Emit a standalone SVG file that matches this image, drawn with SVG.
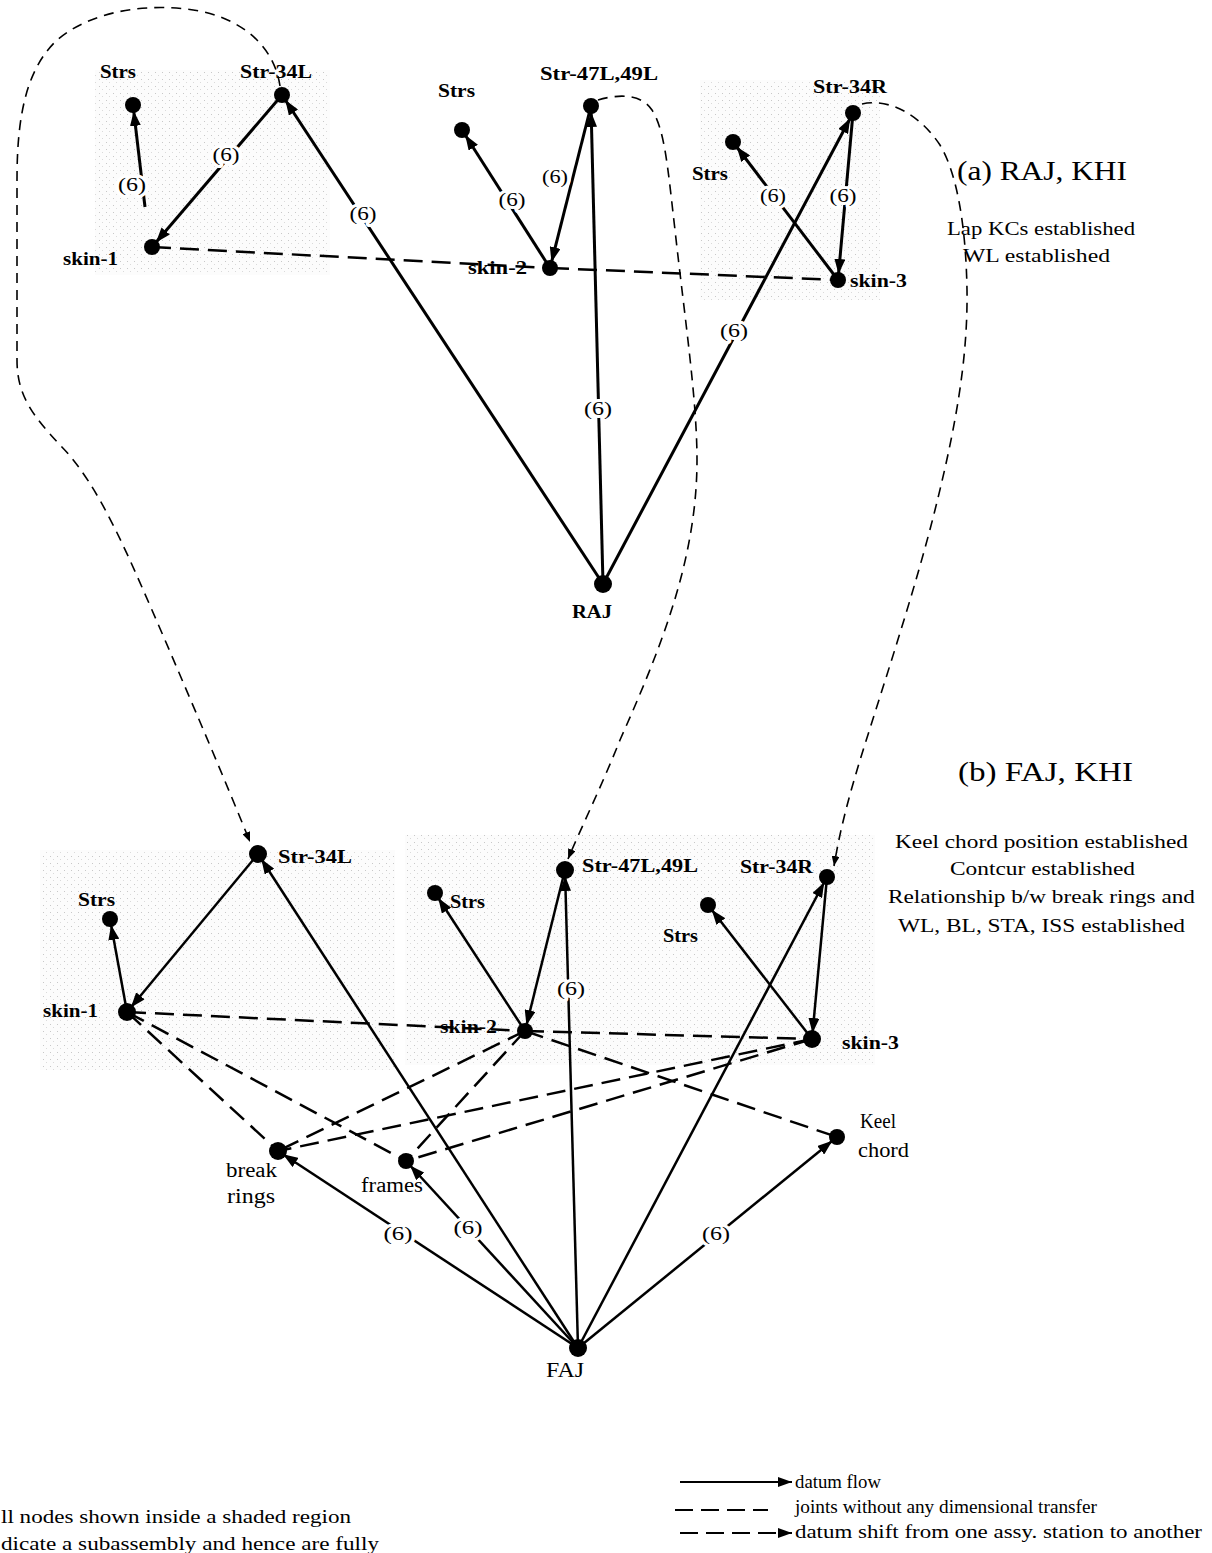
<svg xmlns="http://www.w3.org/2000/svg" width="1212" height="1553" viewBox="0 0 1212 1553">
<style>
.nd{fill:#000}
.lb{font-family:"Liberation Serif","Times New Roman",serif;font-weight:bold;font-size:19px;fill:#000}
.rg{font-family:"Liberation Serif","Times New Roman",serif;font-size:20px;fill:#000}
.six{font-family:"Liberation Serif","Times New Roman",serif;font-size:18px;fill:#000;text-anchor:middle;paint-order:stroke;stroke:#fff;stroke-width:6px;stroke-linejoin:round}
.ttl{font-family:"Liberation Serif","Times New Roman",serif;font-size:28px;fill:#000}
.note{font-family:"Liberation Serif","Times New Roman",serif;font-size:19px;fill:#000}
.leg{font-family:"Liberation Serif","Times New Roman",serif;font-size:19px;fill:#000}
.sa{stroke:#000;stroke-width:3;fill:none;marker-end:url(#ah)}
.sb{stroke:#000;stroke-width:2.5;fill:none;marker-end:url(#ah)}
.dj{stroke:#000;stroke-width:2.5;fill:none;stroke-dasharray:19 9}
.ds{stroke:#000;stroke-width:1.6;fill:none;stroke-dasharray:10 7;marker-end:url(#ahs)}
</style>
<defs>
<marker id="ah" viewBox="0 0 15 11" refX="21" refY="5.5" markerWidth="15" markerHeight="11" markerUnits="userSpaceOnUse" orient="auto"><path d="M0,0L15,5.5L0,11z" fill="#000"/></marker>
<marker id="ahl" viewBox="0 0 14 10" refX="14" refY="5" markerWidth="14" markerHeight="10" markerUnits="userSpaceOnUse" orient="auto"><path d="M0,0L14,5L0,10z" fill="#000"/></marker>
<marker id="ahs" viewBox="0 0 10 8" refX="10" refY="4" markerWidth="10" markerHeight="8" markerUnits="userSpaceOnUse" orient="auto"><path d="M0,0L10,4L0,8z" fill="#000"/></marker>
<pattern id="stip" width="7" height="7" patternUnits="userSpaceOnUse"><rect width="7" height="7" fill="#fcfcfc"/><rect x="1" y="2" width="1" height="1" fill="#c8c8c8"/><rect x="4" y="5" width="1" height="1" fill="#dadada"/></pattern>
</defs>
<rect width="1212" height="1553" fill="#fff"/>
<g id="shading">
<rect x="95" y="70" width="235" height="205" fill="url(#stip)"/>
<rect x="700" y="80" width="180" height="220" fill="url(#stip)"/>
<rect x="40" y="850" width="355" height="220" fill="url(#stip)"/>
<rect x="405" y="835" width="470" height="230" fill="url(#stip)"/>
</g>
<g id="connectors">
<path class="dj" d="M152,247 L550,268"/>
<path class="dj" d="M550,268 L838,280"/>
<path class="sa" d="M145,207 L133,105"/>
<path class="sa" d="M282,95 L152,247"/>
<path class="sa" d="M603,584 L282,95"/>
<path class="sa" d="M550,268 L462,130"/>
<path class="sa" d="M591,106 L550,268"/>
<path class="sa" d="M603,584 L591,106"/>
<path class="sa" d="M838,280 L733,142"/>
<path class="sa" d="M853,113 L838,280"/>
<path class="sa" d="M603,584 L853,113"/>
<path class="ds" d="M280,86 C275,52 250,22 200,11 C150,2 90,10 55,42 C25,72 17,120 17,180 L17,360 C17,395 32,415 60,445 C100,485 130,560 165,640 C195,710 225,780 250,842"/>
<path class="ds" d="M598,100 C615,95 640,92 652,110 C665,130 668,170 675,230 C685,320 697,400 697,460 C697,560 660,650 620,740 C600,790 580,830 568,859"/>
<path class="ds" d="M862,104 C890,98 920,115 940,145 C958,175 966,230 967,290 C968,360 955,430 935,510 C915,590 885,680 860,760 C848,800 840,830 834,866"/>
<path class="dj" d="M127,1012 L525,1031"/>
<path class="dj" d="M525,1031 L812,1039"/>
<path class="dj" d="M127,1012 L278,1151"/>
<path class="dj" d="M127,1012 L406,1161"/>
<path class="dj" d="M525,1031 L278,1151"/>
<path class="dj" d="M525,1031 L406,1161"/>
<path class="dj" d="M812,1039 L278,1151"/>
<path class="dj" d="M812,1039 L406,1161"/>
<path class="dj" d="M525,1031 L837,1137"/>
<path class="sb" d="M127,1012 L110,919"/>
<path class="sb" d="M258,854 L127,1012"/>
<path class="sb" d="M578,1348 L258,854"/>
<path class="sb" d="M525,1031 L435,893"/>
<path class="sb" d="M565,870 L525,1031"/>
<path class="sb" d="M578,1348 L565,870"/>
<path class="sb" d="M812,1039 L708,905"/>
<path class="sb" d="M827,877 L812,1039"/>
<path class="sb" d="M578,1348 L827,877"/>
<path class="sb" d="M578,1348 L278,1151"/>
<path class="sb" d="M578,1348 L406,1161"/>
<path class="sb" d="M578,1348 L837,1137"/>
</g>
<g id="edge-labels">
<text class="six" x="132" y="191" textLength="28" lengthAdjust="spacingAndGlyphs">(6)</text>
<text class="six" x="226" y="161" textLength="27" lengthAdjust="spacingAndGlyphs">(6)</text>
<text class="six" x="363" y="220" textLength="27" lengthAdjust="spacingAndGlyphs">(6)</text>
<text class="six" x="512" y="206" textLength="27" lengthAdjust="spacingAndGlyphs">(6)</text>
<text class="six" x="555" y="183" textLength="26" lengthAdjust="spacingAndGlyphs">(6)</text>
<text class="six" x="598" y="415" textLength="28" lengthAdjust="spacingAndGlyphs">(6)</text>
<text class="six" x="773" y="202" textLength="26" lengthAdjust="spacingAndGlyphs">(6)</text>
<text class="six" x="843" y="202" textLength="27" lengthAdjust="spacingAndGlyphs">(6)</text>
<text class="six" x="734" y="337" textLength="28" lengthAdjust="spacingAndGlyphs">(6)</text>
<text class="six" x="571" y="995" textLength="28" lengthAdjust="spacingAndGlyphs">(6)</text>
<text class="six" x="398" y="1240" textLength="29" lengthAdjust="spacingAndGlyphs">(6)</text>
<text class="six" x="468" y="1234" textLength="29" lengthAdjust="spacingAndGlyphs">(6)</text>
<text class="six" x="716" y="1240" textLength="28" lengthAdjust="spacingAndGlyphs">(6)</text>
</g>
<g id="a-strs-left"><circle class="nd" cx="133" cy="105" r="8"/><text class="lb" x="100" y="78" textLength="36" lengthAdjust="spacingAndGlyphs">Strs</text></g>
<g id="a-str34L"><circle class="nd" cx="282" cy="95" r="8"/><text class="lb" x="240" y="78" textLength="72" lengthAdjust="spacingAndGlyphs">Str-34L</text></g>
<g id="a-skin1"><circle class="nd" cx="152" cy="247" r="8"/><text class="lb" x="63" y="265" textLength="55" lengthAdjust="spacingAndGlyphs">skin-1</text></g>
<g id="a-strs-mid"><circle class="nd" cx="462" cy="130" r="8"/><text class="lb" x="438" y="97" textLength="37" lengthAdjust="spacingAndGlyphs">Strs</text></g>
<g id="a-str47"><circle class="nd" cx="591" cy="106" r="8"/><text class="lb" x="540" y="80" textLength="118" lengthAdjust="spacingAndGlyphs">Str-47L,49L</text></g>
<g id="a-skin2"><circle class="nd" cx="550" cy="268" r="8"/><text class="lb" x="468" y="274" textLength="59" lengthAdjust="spacingAndGlyphs">skin-2</text></g>
<g id="a-strs-right"><circle class="nd" cx="733" cy="142" r="8"/><text class="lb" x="692" y="180" textLength="36" lengthAdjust="spacingAndGlyphs">Strs</text></g>
<g id="a-str34R"><circle class="nd" cx="853" cy="113" r="8"/><text class="lb" x="813" y="93" textLength="74" lengthAdjust="spacingAndGlyphs">Str-34R</text></g>
<g id="a-skin3"><circle class="nd" cx="838" cy="280" r="8"/><text class="lb" x="850" y="287" textLength="57" lengthAdjust="spacingAndGlyphs">skin-3</text></g>
<g id="a-raj"><circle class="nd" cx="603" cy="584" r="9"/><text class="lb" x="572" y="618" textLength="40" lengthAdjust="spacingAndGlyphs">RAJ</text></g>
<g id="b-str34L"><circle class="nd" cx="258" cy="854" r="9"/><text class="lb" x="278" y="863" textLength="74" lengthAdjust="spacingAndGlyphs">Str-34L</text></g>
<g id="b-strs-left"><circle class="nd" cx="110" cy="919" r="8"/><text class="lb" x="78" y="906" textLength="37" lengthAdjust="spacingAndGlyphs">Strs</text></g>
<g id="b-skin1"><circle class="nd" cx="127" cy="1012" r="9"/><text class="lb" x="43" y="1017" textLength="55" lengthAdjust="spacingAndGlyphs">skin-1</text></g>
<g id="b-str47"><circle class="nd" cx="565" cy="870" r="9"/><text class="lb" x="582" y="872" textLength="116" lengthAdjust="spacingAndGlyphs">Str-47L,49L</text></g>
<g id="b-strs-mid"><circle class="nd" cx="435" cy="893" r="8"/><text class="lb" x="450" y="908" textLength="35" lengthAdjust="spacingAndGlyphs">Strs</text></g>
<g id="b-skin2"><circle class="nd" cx="525" cy="1031" r="8"/><text class="lb" x="440" y="1033" textLength="57" lengthAdjust="spacingAndGlyphs">skin-2</text></g>
<g id="b-strs-right"><circle class="nd" cx="708" cy="905" r="8"/><text class="lb" x="663" y="942" textLength="35" lengthAdjust="spacingAndGlyphs">Strs</text></g>
<g id="b-str34R"><circle class="nd" cx="827" cy="877" r="8"/><text class="lb" x="740" y="873" textLength="73" lengthAdjust="spacingAndGlyphs">Str-34R</text></g>
<g id="b-skin3"><circle class="nd" cx="812" cy="1039" r="9"/><text class="lb" x="842" y="1049" textLength="57" lengthAdjust="spacingAndGlyphs">skin-3</text></g>
<g id="b-break"><circle class="nd" cx="278" cy="1151" r="9"/><text class="rg" x="226" y="1177" textLength="51" lengthAdjust="spacingAndGlyphs">break</text><text class="rg" x="227" y="1203" textLength="48" lengthAdjust="spacingAndGlyphs">rings</text></g>
<g id="b-frames"><circle class="nd" cx="406" cy="1161" r="8"/><text class="rg" x="361" y="1192" textLength="62" lengthAdjust="spacingAndGlyphs">frames</text></g>
<g id="b-keel"><circle class="nd" cx="837" cy="1137" r="8"/><text class="rg" x="860" y="1128" textLength="36" lengthAdjust="spacingAndGlyphs">Keel</text><text class="rg" x="858" y="1157" textLength="51" lengthAdjust="spacingAndGlyphs">chord</text></g>
<g id="b-faj"><circle class="nd" cx="578" cy="1348" r="9"/><text class="rg" x="546" y="1377" textLength="38" lengthAdjust="spacingAndGlyphs">FAJ</text></g>
<g id="titles">
<text class="ttl" x="957" y="180" textLength="170" lengthAdjust="spacingAndGlyphs">(a) RAJ, KHI</text>
<text class="note" x="947" y="235" textLength="188" lengthAdjust="spacingAndGlyphs">Lap KCs established</text>
<text class="note" x="963" y="262" textLength="147" lengthAdjust="spacingAndGlyphs">WL established</text>
<text class="ttl" x="958" y="781" textLength="175" lengthAdjust="spacingAndGlyphs">(b) FAJ, KHI</text>
<text class="note" x="895" y="848" textLength="293" lengthAdjust="spacingAndGlyphs">Keel chord position established</text>
<text class="note" x="950" y="875" textLength="185" lengthAdjust="spacingAndGlyphs">Contcur established</text>
<text class="note" x="888" y="903" textLength="307" lengthAdjust="spacingAndGlyphs">Relationship b/w break rings and</text>
<text class="note" x="898" y="932" textLength="287" lengthAdjust="spacingAndGlyphs">WL, BL, STA, ISS established</text>
</g>
<g id="legend">
<path d="M680,1482 L792,1482" stroke="#000" stroke-width="1.8" fill="none" marker-end="url(#ahl)"/>
<text class="leg" x="795" y="1488" textLength="86" lengthAdjust="spacingAndGlyphs">datum flow</text>
<path d="M675,1510 L768,1510" stroke="#000" stroke-width="2" fill="none" stroke-dasharray="18 8"/>
<text class="leg" x="795" y="1513" textLength="302" lengthAdjust="spacingAndGlyphs">joints without any dimensional transfer</text>
<path d="M680,1533 L792,1533" stroke="#000" stroke-width="1.8" fill="none" stroke-dasharray="18 8" marker-end="url(#ahl)"/>
<text class="leg" x="795" y="1538" textLength="407" lengthAdjust="spacingAndGlyphs">datum shift from one assy. station to another</text>
<text class="leg" x="1" y="1523" textLength="350" lengthAdjust="spacingAndGlyphs">ll nodes shown inside a shaded region</text>
<text class="leg" x="1" y="1550" textLength="378" lengthAdjust="spacingAndGlyphs">dicate a subassembly and hence are fully</text>
</g>
</svg>
